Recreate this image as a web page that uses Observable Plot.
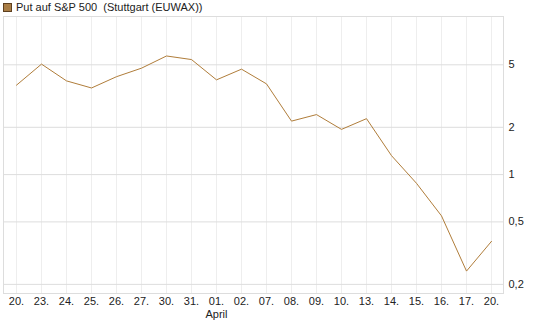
<!DOCTYPE html>
<html>
<head>
<meta charset="utf-8">
<script src="https://cdn.jsdelivr.net/npm/d3@7"></script>
<script src="https://cdn.jsdelivr.net/npm/@observablehq/plot@0.6"></script>
<style>
  body { margin: 0; background: #fff; font-family: "Liberation Sans", Arial, sans-serif; }
  #wrap { position: relative; width: 545px; height: 327px; }
  #legend { position: absolute; left: 3px; top: 1px; font-size: 11px; color: #222; display: flex; align-items: center; white-space: pre; }
  #legend .sw { width: 7px; height: 7px; background: #a97d45; border: 1px solid #5e4020; margin-right: 4px; }
</style>
</head>
<body>
<div id="wrap">
  <div id="chart"></div>
  <div id="legend"><span class="sw"></span><span>Put auf S&amp;P 500  (Stuttgart (EUWAX))</span></div>
</div>
<script>
const dateLabels = ["20.","23.","24.","25.","26.","27.","30.","31.","01.","02.","07.","08.","09.","10.","13.","14.","15.","16.","17.","20."];
const prices = [3.71,5.05,3.95,3.56,4.2,4.76,5.69,5.4,4.01,4.69,3.78,2.19,2.41,1.94,2.27,1.32,0.88,0.546,0.243,0.376];
const yTicks = [0.2,0.5,1,2,5];
const monthLabel = [{i: 8, text: "April"}];

const data = dateLabels.map((d, i) => ({i, v: prices[i]}));
const idx = d3.range(dateLabels.length);

const chart = Plot.plot({
  width: 545,
  height: 327,
  marginLeft: 3,
  marginRight: 42,
  marginTop: 16,
  marginBottom: 34,
  style: {fontFamily: "Liberation Sans, Arial, sans-serif", fontSize: "11px", color: "#222", background: "#fff"},
  x: {type: "point", domain: idx, padding: 0.5, axis: null, label: null},
  y: {type: "log", domain: [0.175, 10.15], axis: null, label: null},
  marks: [
    Plot.gridX(idx, {stroke: "#eeeeee", strokeOpacity: 1}),
    Plot.gridY(yTicks, {stroke: "#dddddd", strokeOpacity: 1}),
    Plot.frame({stroke: "#dddddd"}),
    Plot.line(data, {x: "i", y: "v", stroke: "#b07d3a", strokeWidth: 1}),
    Plot.axisX(idx, {tickSize: 0, tickPadding: 4, tickFormat: i => dateLabels[i], fontSize: 11, fill: "#222", label: null}),
    Plot.text(monthLabel, {x: "i", frameAnchor: "bottom", dy: 17, text: "text", fontSize: 11, fill: "#222", lineAnchor: "top"}),
    Plot.text(yTicks, {y: d => d, text: d => String(d).replace(".", ","), frameAnchor: "right", textAnchor: "start", dx: 5, fontSize: 11, fill: "#222"})
  ]
});
document.getElementById("chart").appendChild(chart);
</script>
</body>
</html>
